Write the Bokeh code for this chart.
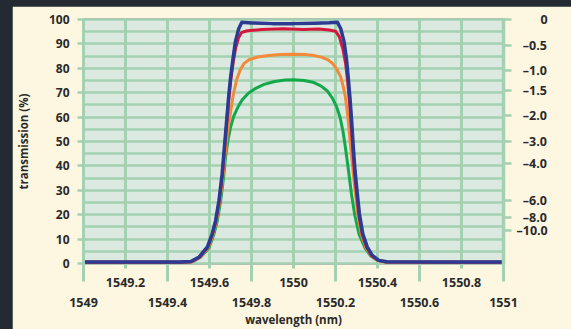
from bokeh.plotting import figure
from bokeh.models import FixedTicker, LinearAxis, Range1d, Grid
from bokeh.embed import file_html
from bokeh.resources import INLINE

# ---------------- data ----------------
wl_blue = [1549.00, 1549.46, 1549.511, 1549.551, 1549.590, 1549.613, 1549.629, 1549.645,
           1549.660, 1549.668, 1549.676, 1549.684, 1549.692, 1549.700, 1549.712, 1549.723,
           1549.739, 1549.754, 1549.80, 1549.90, 1550.00, 1550.10, 1550.17, 1550.209,
           1550.225, 1550.241, 1550.252, 1550.261, 1550.269, 1550.277, 1550.285, 1550.293,
           1550.304, 1550.314, 1550.330, 1550.351, 1550.374, 1550.406, 1550.445, 1550.70, 1551.00]
t_blue = [0.6, 0.6, 0.8, 2.7, 6.8, 12.2, 17.6, 25.7, 36.6, 44.7, 52.8, 61.0, 69.1, 75.9,
          84.0, 90.8, 96.2, 98.9, 98.6, 98.3, 98.3, 98.5, 98.7, 98.9, 96.2, 90.8, 84.0,
          75.9, 67.8, 58.3, 47.4, 38.0, 28.5, 20.3, 12.2, 6.8, 3.4, 1.3, 0.7, 0.6, 0.6]

wl_red = [1549.00, 1549.46, 1549.512, 1549.552, 1549.591, 1549.614, 1549.630, 1549.646,
          1549.661, 1549.669, 1549.677, 1549.685, 1549.693, 1549.701, 1549.713, 1549.725,
          1549.738, 1549.752, 1549.78, 1549.85, 1549.95, 1550.05, 1550.12, 1550.17,
          1550.200, 1550.218, 1550.235, 1550.248, 1550.258, 1550.266, 1550.274, 1550.282,
          1550.290, 1550.301, 1550.311, 1550.327, 1550.348, 1550.371, 1550.403, 1550.442,
          1550.70, 1551.00]
t_red = [0.5, 0.5, 0.7, 2.6, 6.6, 12.0, 17.4, 25.4, 36.2, 44.2, 52.2, 60.3, 68.3, 75.0,
         82.5, 88.5, 92.5, 94.6, 95.4, 95.9, 96.2, 95.9, 96.1, 95.7, 95.2, 93.0, 88.0,
         82.0, 74.5, 66.5, 57.5, 47.0, 37.6, 28.2, 20.0, 12.0, 6.7, 3.3, 1.3, 0.6, 0.5, 0.5]

wl_orange = [1549.00, 1549.46, 1549.515, 1549.555, 1549.594, 1549.617, 1549.633, 1549.649,
             1549.664, 1549.673, 1549.682, 1549.692, 1549.702, 1549.714, 1549.730, 1549.747,
             1549.765, 1549.79, 1549.83, 1549.88, 1549.94, 1550.00, 1550.06, 1550.10,
             1550.139, 1550.165, 1550.186, 1550.205, 1550.225, 1550.237, 1550.246, 1550.254,
             1550.261, 1550.268, 1550.276, 1550.285, 1550.296, 1550.307, 1550.323, 1550.345,
             1550.368, 1550.400, 1550.440, 1550.70, 1551.00]
t_orange = [0.5, 0.5, 0.7, 2.5, 6.5, 12.0, 17.4, 25.3, 35.8, 43.5, 51.0, 57.5, 63.0, 69.5,
            75.5, 79.5, 82.0, 83.6, 84.6, 85.2, 85.6, 85.8, 85.6, 85.2, 84.4, 83.4, 82.0,
            79.8, 76.4, 72.5, 68.8, 63.5, 58.3, 51.5, 44.5, 36.5, 27.8, 19.8, 11.8, 6.6,
            3.3, 1.3, 0.6, 0.5, 0.5]

wl_green = [1549.00, 1549.47, 1549.520, 1549.558, 1549.598, 1549.621, 1549.637, 1549.653,
            1549.668, 1549.677, 1549.688, 1549.700, 1549.716, 1549.735, 1549.755, 1549.785,
            1549.820, 1549.860, 1549.910, 1549.960, 1550.000, 1550.050, 1550.092, 1550.130,
            1550.160, 1550.185, 1550.205, 1550.222, 1550.236, 1550.248, 1550.262, 1550.276,
            1550.292, 1550.312, 1550.340, 1550.366, 1550.398, 1550.438, 1550.70, 1551.00]
t_green = [0.5, 0.5, 0.8, 2.6, 6.5, 12.0, 17.4, 25.5, 36.0, 44.0, 50.5, 55.8, 60.5, 64.0,
           67.0, 69.8, 71.8, 73.4, 74.6, 75.2, 75.3, 75.0, 74.3, 72.8, 70.8, 67.8, 64.3,
           59.8, 54.0, 47.0, 38.0, 28.5, 19.8, 12.0, 6.5, 3.2, 1.3, 0.6, 0.5, 0.5]

y_ticks = [0, 10, 20, 30, 40, 50, 60, 70, 80, 90, 100]
y_grid = [0, 5, 10, 15, 20, 25, 30, 35, 40, 45, 50, 55, 60, 65, 70, 75, 80, 85, 90, 95, 100]
x_ticks_upper = [1549.2, 1549.6, 1550.0, 1550.4, 1550.8]
x_labels_upper = ["1549.2", "1549.6", "1550", "1550.4", "1550.8"]
x_ticks_lower = [1549.0, 1549.4, 1549.8, 1550.2, 1550.6, 1551.0]
x_labels_lower = ["1549", "1549.4", "1549.8", "1550.2", "1550.6", "1551"]
db_labels = ["0", "\u20130.5", "\u20131.0", "\u20131.5", "\u20132.0", "\u20133.0",
             "\u20134.0", "\u20136.0", "\u20138.0", "\u201310.0"]
db_tick_pct = [100, 89.2, 79.0, 71.0, 60.5, 49.8, 41.0, 25.8, 18.8, 13.6]

# ---------------- style ----------------
GRID = "#a3d1b1"
TXT = "#2a2a2a"
FONT = "Open Sans"

# right-aligned look for the right-hand labels: pad with width-equivalent spaces
SPACE_FOR = {"\u2013": "\u2002", ".": "\u2008"}
longest = max(db_labels, key=len)


def pad(s):
    extra = longest[:len(longest) - len(s)]
    return "".join(SPACE_FOR.get(c, "\u2007") for c in extra) + s


p = figure(width=559, height=323,
           x_range=Range1d(1549, 1551), y_range=Range1d(-0.4, 100.4),
           output_backend="svg", toolbar_location=None,
           x_axis_location=None, y_axis_location=None,
           min_border_left=66, min_border_right=68, min_border_top=12, min_border_bottom=63,
           background_fill_color="#dce9e1", border_fill_color="#fdf7e2",
           outline_line_color=None)

p.center = [r for r in p.center if not isinstance(r, Grid)]
p.add_layout(Grid(dimension=0, ticker=FixedTicker(ticks=x_ticks_lower + x_ticks_upper),
                  grid_line_color=GRID, grid_line_width=3))
p.add_layout(Grid(dimension=1, ticker=FixedTicker(ticks=y_grid),
                  grid_line_color=GRID, grid_line_width=2.5))

# left axis
ya = LinearAxis(ticker=FixedTicker(ticks=y_ticks), axis_label="transmission (%)")
ya.axis_line_color = GRID
ya.axis_line_width = 3
ya.major_tick_out = 6
ya.major_tick_in = 0
ya.major_tick_line_color = GRID
ya.major_tick_line_width = 2.5
ya.minor_tick_line_color = None
ya.major_label_text_font = FONT
ya.major_label_text_font_style = "bold"
ya.major_label_text_font_size = "12px"
ya.major_label_text_color = TXT
ya.major_label_standoff = 8
ya.axis_label_text_font = FONT
ya.axis_label_text_font_style = "bold"
ya.axis_label_text_font_size = "11.5px"
ya.axis_label_text_color = TXT
ya.axis_label_standoff = 15
p.add_layout(ya, "left")

# bottom axis, upper row (short ticks) with lower-row long ticks as minor ticks
xa = LinearAxis(ticker=FixedTicker(ticks=x_ticks_upper, minor_ticks=x_ticks_lower))
xa.major_label_overrides = dict(zip(x_ticks_upper, x_labels_upper))
xa.axis_line_color = None
xa.major_tick_out = 4
xa.major_tick_in = 0
xa.minor_tick_out = 17
xa.minor_tick_in = 0
xa.major_tick_line_color = GRID
xa.minor_tick_line_color = GRID
xa.major_tick_line_width = 3
xa.minor_tick_line_width = 3
xa.major_label_text_font = FONT
xa.major_label_text_font_style = "bold"
xa.major_label_text_font_size = "12.5px"
xa.major_label_text_color = TXT
xa.major_label_standoff = -4
p.add_layout(xa, "below")

# bottom axis, lower row
xb = LinearAxis(ticker=FixedTicker(ticks=x_ticks_lower), axis_label="wavelength (nm)")
xb.major_label_overrides = dict(zip(x_ticks_lower, x_labels_lower))
xb.axis_line_color = None
xb.major_tick_line_color = None
xb.minor_tick_line_color = None
xb.major_tick_out = 0
xb.major_tick_in = 0
xb.major_label_text_font = FONT
xb.major_label_text_font_style = "bold"
xb.major_label_text_font_size = "12.5px"
xb.major_label_text_color = TXT
xb.major_label_standoff = 8
xb.axis_label_text_font = FONT
xb.axis_label_text_font_style = "bold"
xb.axis_label_text_font_size = "11.5px"
xb.axis_label_text_color = TXT
xb.axis_label_standoff = 2
p.add_layout(xb, "below")

# right axis (insertion loss, dB)
ra = LinearAxis(ticker=FixedTicker(ticks=db_tick_pct))
ra.major_label_overrides = dict(zip(db_tick_pct, [pad(s) for s in db_labels]))
ra.axis_line_color = GRID
ra.axis_line_width = 3.5
ra.major_tick_out = 8
ra.major_tick_in = 0
ra.major_tick_line_color = GRID
ra.major_tick_line_width = 2.5
ra.minor_tick_line_color = None
ra.major_label_text_font = FONT
ra.major_label_text_font_style = "bold"
ra.major_label_text_font_size = "12.5px"
ra.major_label_text_color = TXT
ra.major_label_standoff = 5
p.add_layout(ra, "right")

# curves
p.line(wl_green, t_green, line_color="#13a94b", line_width=3, line_join="round", line_cap="round")
p.line(wl_orange, t_orange, line_color="#f28a3a", line_width=3, line_join="round", line_cap="round")
p.line(wl_red, t_red, line_color="#d6173d", line_width=3, line_join="round", line_cap="round")
p.line(wl_blue, t_blue, line_color="#2c3a92", line_width=3.5, line_join="round", line_cap="round")

html = file_html(p, INLINE)
html = html.replace("</head>",
                    "<style>html,body{margin:0;padding:0;overflow:hidden;background:#232a31}"
                    "body{padding:6px 0 0 12px}</style></head>", 1)
open("out.html", "w").write(html)
